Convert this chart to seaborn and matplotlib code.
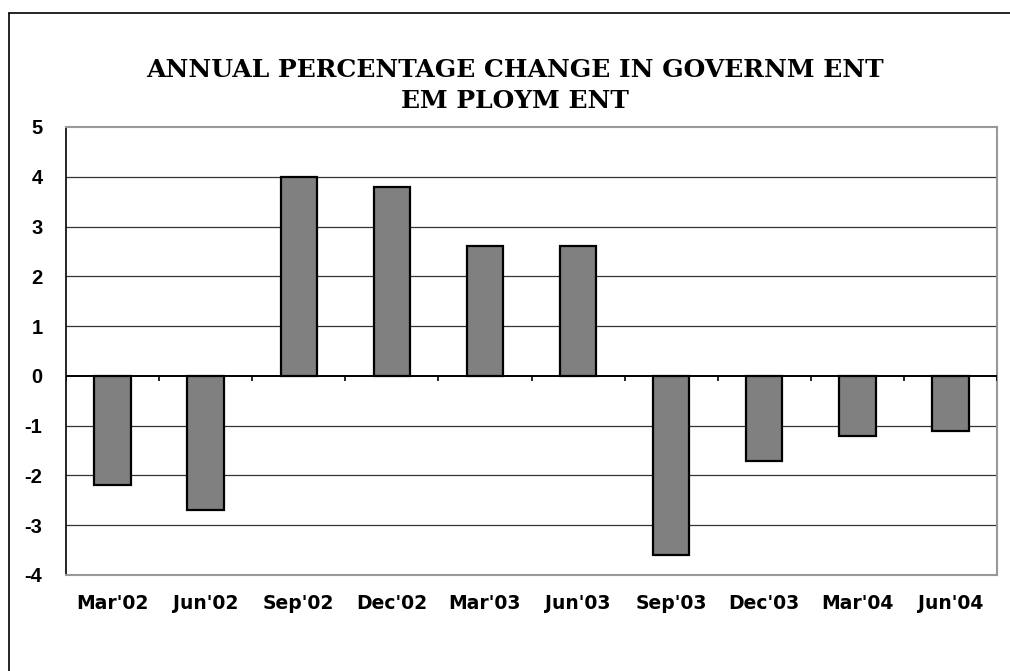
import matplotlib
matplotlib.use("Agg")
import matplotlib.pyplot as plt
import seaborn as sns
import pandas as pd
from matplotlib.lines import Line2D

categories = ["Mar'02", "Jun'02", "Sep'02", "Dec'02", "Mar'03", "Jun'03",
              "Sep'03", "Dec'03", "Mar'04", "Jun'04"]
values = [-2.2, -2.7, 4.0, 3.8, 2.6, 2.6, -3.6, -1.7, -1.2, -1.1]
y_ticks = [5, 4, 3, 2, 1, 0, -1, -2, -3, -4]
title_lines = ["ANNUAL PERCENTAGE CHANGE IN GOVERNM ENT", "EM PLOYM ENT"]

sns.set_style("white")
plt.rcParams['font.family'] = ['Liberation Sans', 'DejaVu Sans']
plt.rcParams['text.color'] = 'black'
plt.rcParams['xtick.color'] = 'black'
plt.rcParams['ytick.color'] = 'black'
plt.rcParams['xtick.labelcolor'] = 'black'
plt.rcParams['ytick.labelcolor'] = 'black'

df = pd.DataFrame({"cat": categories, "val": values})

fig = plt.figure(figsize=(10.1, 6.71), dpi=100)
ax = fig.add_axes([66/1010, 1-575/671, (997-66)/1010, (575-127)/671])

sns.barplot(data=df, x="cat", y="val", color="#808080", saturation=1,
            edgecolor="black", linewidth=1.6, width=0.39, ax=ax, zorder=3)

ax.set_xlim(-0.5, len(categories) - 0.5)
ax.set_ylim(-4, 5)
ax.set_yticks(y_ticks)
ax.set_yticklabels([str(t) for t in y_ticks], fontsize=14.5, fontweight="bold",
                   color="black")
ax.tick_params(axis="y", direction="out", length=7, width=1, color="black", pad=10)
ax.tick_params(axis="x", length=0, pad=14)
for lbl in ax.get_xticklabels():
    lbl.set_fontsize(13.5)
    lbl.set_fontweight("bold")
    lbl.set_family(["DejaVu Sans"])
    lbl.set_color("black")
ax.set_xlabel("")
ax.set_ylabel("")

for y in y_ticks:
    if y not in (0, 5, -4):
        ax.axhline(y, color="#333333", lw=0.9, zorder=1)

# zero axis with category boundary ticks
ax.axhline(0, color="black", lw=1.4, zorder=4)
bounds = [i - 0.5 for i in range(len(categories) + 1)]
ax.vlines(bounds, 0, -0.1, color="black", lw=1.2, zorder=4)

for side in ["top", "right", "bottom"]:
    ax.spines[side].set_color("#999999")
    ax.spines[side].set_linewidth(1.5)
ax.spines["left"].set_color("black")
ax.spines["left"].set_linewidth(1.2)

fig.text(515/1010, 1 - 70/671, title_lines[0], ha="center", va="center",
         fontsize=18, fontweight="bold", family=["DejaVu Serif"], color="black")
fig.text(515/1010, 1 - 101/671, title_lines[1], ha="center", va="center",
         fontsize=18, fontweight="bold", family=["DejaVu Serif"], color="black")

# outer frame (left and top edges visible)
fig.add_artist(Line2D([9/1010, 9/1010], [0, 1 - 13/671], transform=fig.transFigure,
                      color="black", lw=1.2))
fig.add_artist(Line2D([9/1010, 1], [1 - 13/671, 1 - 13/671], transform=fig.transFigure,
                      color="black", lw=1.2))

fig.savefig("out.png", dpi=100)
